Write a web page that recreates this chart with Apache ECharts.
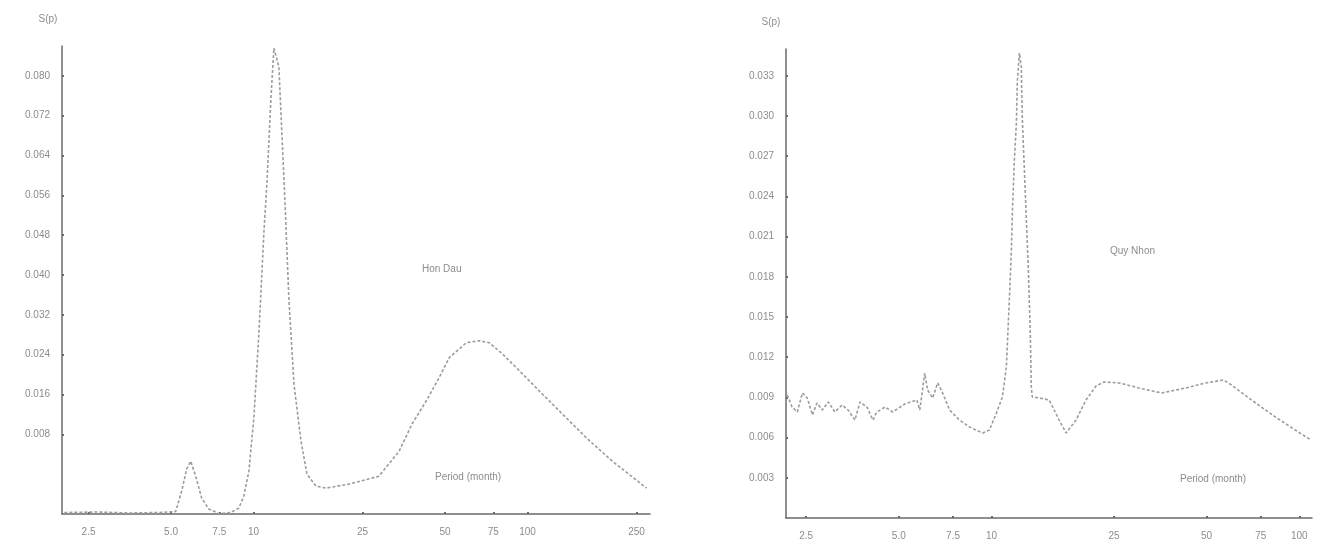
<!DOCTYPE html>
<html>
<head>
<meta charset="utf-8">
<script src="https://cdn.jsdelivr.net/npm/echarts@6/dist/echarts.min.js"></script>
<style>
html,body{margin:0;padding:0;background:#fff;}
#chart{width:1317px;height:550px;}
</style>
</head>
<body>
<div id="chart"></div>
<script>
// ---- Data (period in months, spectral density S(p)) ----
const honDauPeriod = [2.04, 2.72, 3.5, 4.51, 5.2, 5.47, 5.7, 5.9, 6.15, 6.47, 6.87, 7.47, 8.26, 8.84, 9.22, 9.62, 10.03, 10.46, 10.91, 11.19, 11.57, 11.87, 12.38, 12.69, 13.02, 13.47, 14.05, 14.9, 15.67, 16.9, 18.39, 22.3, 28.7, 34.0, 37.9, 42.7, 47.6, 51.8, 59.8, 66.7, 72.5, 80.9, 93.3, 110.5, 134, 164, 204, 272];
const honDauValue  = [-0.0077, -0.0076, -0.0078, -0.0077, -0.0075, -0.0034, 0.0010, 0.0026, -0.0004, -0.0048, -0.0070, -0.0079, -0.0077, -0.0068, -0.0044, 0.0006, 0.0113, 0.0282, 0.0484, 0.0584, 0.0752, 0.0856, 0.0818, 0.0685, 0.0550, 0.0349, 0.0181, 0.0067, 0.0000, -0.0024, -0.0028, -0.0020, -0.0004, 0.0046, 0.0101, 0.0147, 0.0194, 0.0234, 0.0264, 0.0268, 0.0264, 0.0242, 0.0208, 0.0167, 0.0121, 0.0073, 0.0026, -0.0028];

const quyNhonPeriod = [2.17, 2.25, 2.34, 2.43, 2.52, 2.62, 2.71, 2.82, 2.95, 3.10, 3.27, 3.42, 3.60, 3.74, 3.94, 4.12, 4.24, 4.51, 4.78, 5.23, 5.72, 5.85, 6.07, 6.20, 6.44, 6.69, 6.94, 7.31, 7.87, 8.49, 9.35, 9.85, 10.38, 10.85, 11.18, 11.43, 11.60, 11.69, 11.87, 12.05, 12.13, 12.32, 12.50, 12.59, 12.78, 12.97, 13.17, 13.37, 13.47, 13.57, 14.30, 15.40, 16.59, 17.48, 18.83, 20.29, 21.86, 23.20, 25.95, 30.1, 35.7, 42.7, 49.6, 56.7, 60.2, 69.9, 83.6, 99.2, 109.3];
const quyNhonValue  = [0.00918, 0.00828, 0.00791, 0.00933, 0.00896, 0.00769, 0.00858, 0.00806, 0.00866, 0.00791, 0.00843, 0.00806, 0.00731, 0.00866, 0.00828, 0.00731, 0.00791, 0.00828, 0.00791, 0.00851, 0.00881, 0.00806, 0.01082, 0.00955, 0.00896, 0.01008, 0.00933, 0.00806, 0.00731, 0.00679, 0.00634, 0.00657, 0.00784, 0.00903, 0.01127, 0.01627, 0.01978, 0.02276, 0.02672, 0.02948, 0.03246, 0.0347, 0.03366, 0.02993, 0.0262, 0.02246, 0.01873, 0.01381, 0.00978, 0.00903, 0.00896, 0.00881, 0.00731, 0.00634, 0.00731, 0.00881, 0.00985, 0.01015, 0.01008, 0.0097, 0.00933, 0.0097, 0.01008, 0.0103, 0.00993, 0.00881, 0.00754, 0.00642, 0.00582];

// ---- Tick labels ----
const leftXTicks  = [2.5, 5, 7.5, 10, 25, 50, 75, 100, 250];
const rightXTicks = [2.5, 5, 7.5, 10, 25, 50, 75, 100];
const leftYTicks  = [0.008, 0.016, 0.024, 0.032, 0.040, 0.048, 0.056, 0.064, 0.072, 0.080];
const rightYTicks = [0.003, 0.006, 0.009, 0.012, 0.015, 0.018, 0.021, 0.024, 0.027, 0.030, 0.033];

const yName = 'S(p)';
const stationLeft = 'Hon Dau';
const stationRight = 'Quy Nhon';
const xTitle = 'Period (month)';

function pairs(xs, ys) { return xs.map((x, i) => [x, ys[i]]); }

const FONT = 'Liberation Sans';
const TXT = '#8c8c8c';
const AXIS = '#6a6a6a';
const LINE = '#9c9c9c';

function xFmt(v) { return v < 10 ? v.toFixed(1) : String(Math.round(v)); }

function xAxisCfg(gridIndex, min, max, ticks) {
  return {
    type: 'log', logBase: 10, gridIndex, min, max,
    axisLine: { show: true, onZero: false, lineStyle: { color: AXIS, width: 1.5 } },
    axisTick: { show: true, customValues: ticks, inside: true, length: 2, lineStyle: { color: AXIS, width: 2 } },
    axisLabel: { customValues: ticks, formatter: xFmt, color: TXT, fontSize: 10, fontFamily: FONT, margin: 13 },
    splitLine: { show: false }, minorTick: { show: false }
  };
}
function yAxisCfg(gridIndex, min, max, ticks, pad) {
  return {
    type: 'value', gridIndex, min, max,
    name: yName, nameLocation: 'end', nameGap: 22,
    nameTextStyle: { color: TXT, fontSize: 10, fontFamily: FONT, padding: pad },
    axisLine: { show: true, onZero: false, lineStyle: { color: AXIS, width: 1.5 } },
    axisTick: { show: true, customValues: ticks, inside: true, length: 2, lineStyle: { color: AXIS, width: 2 } },
    axisLabel: { customValues: ticks, formatter: v => v.toFixed(3), color: TXT, fontSize: 10, fontFamily: FONT, margin: 12 },
    splitLine: { show: false }
  };
}

const chart = echarts.init(document.getElementById('chart'), null, { renderer: 'canvas' });
chart.setOption({
  backgroundColor: '#ffffff',
  animation: false,
  grid: [
    { left: 62, top: 46, width: 588, bottom: 36 },
    { left: 786, top: 49, width: 526, bottom: 32 }
  ],
  xAxis: [
    xAxisCfg(0, 2, 280, leftXTicks),
    xAxisCfg(1, 2.15, 110, rightXTicks)
  ],
  yAxis: [
    yAxisCfg(0, -0.008, 0.086, leftYTicks, [0, 28, 0, 0]),
    yAxisCfg(1, 0, 0.035, rightYTicks, [0, 30, 0, 0])
  ],
  series: [
    { type: 'line', xAxisIndex: 0, yAxisIndex: 0, data: pairs(honDauPeriod, honDauValue), showSymbol: false,
      lineStyle: { color: LINE, width: 1.6, type: [3, 2] } },
    { type: 'line', xAxisIndex: 1, yAxisIndex: 1, data: pairs(quyNhonPeriod, quyNhonValue), showSymbol: false,
      lineStyle: { color: LINE, width: 1.6, type: [3, 2] } }
  ],
  graphic: [
    { type: 'text', left: 422, top: 264, style: { text: stationLeft, fill: TXT, font: '10px "Liberation Sans"' } },
    { type: 'text', left: 435, top: 472, style: { text: xTitle, fill: TXT, font: '10px "Liberation Sans"' } },
    { type: 'text', left: 1110, top: 246, style: { text: stationRight, fill: TXT, font: '10px "Liberation Sans"' } },
    { type: 'text', left: 1180, top: 474, style: { text: xTitle, fill: TXT, font: '10px "Liberation Sans"' } }
  ]
});
</script>
</body>
</html>
